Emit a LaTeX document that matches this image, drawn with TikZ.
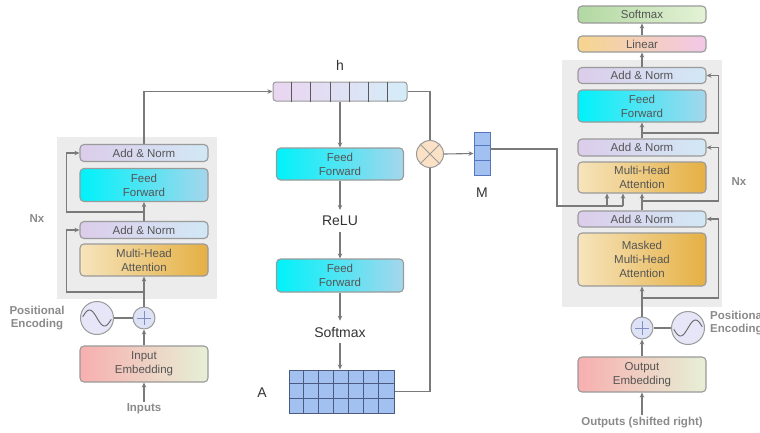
\documentclass[tikz,border=0pt]{standalone}
\usepackage{fontspec}
\setmainfont{Liberation Sans}
\usetikzlibrary{arrows.meta,calc}
\definecolor{lineg}{HTML}{7A7A7A}
\definecolor{boxb}{HTML}{9A9A9A}
\definecolor{txtg}{HTML}{555555}
\definecolor{lblg}{HTML}{8A8A8A}
\definecolor{bgp}{HTML}{ECECEC}
\definecolor{anL}{HTML}{DCCDEB}
\definecolor{anR}{HTML}{D2E8F5}
\definecolor{ffL}{HTML}{00F2FA}
\definecolor{ffR}{HTML}{A5D6EC}
\definecolor{mhL}{HTML}{F6E4BC}
\definecolor{mhR}{HTML}{E5B043}
\definecolor{ieL}{HTML}{F7AFAF}
\definecolor{ieR}{HTML}{E6F0D6}
\definecolor{liL}{HTML}{F5D58E}
\definecolor{liR}{HTML}{F2C8E8}
\definecolor{smL}{HTML}{B2D8A2}
\definecolor{smR}{HTML}{E4F2D6}
\definecolor{hL}{HTML}{EAD5F0}
\definecolor{hR}{HTML}{D5ECF8}
\definecolor{cellb}{HTML}{A2C0F0}
\definecolor{Aline}{HTML}{4A5A80}
\definecolor{Mline}{HTML}{5577BB}
\definecolor{otf}{HTML}{FBE1C6}
\definecolor{pef}{HTML}{E6E6F8}
\definecolor{plusf}{HTML}{DDE2F6}
\definecolor{plusl}{HTML}{7F8FC0}
\begin{document}
\begin{tikzpicture}[x=1pt,y=-1pt,
 box/.style={draw=boxb, line width=1.1pt, rounded corners=4pt, minimum width=128pt, text=txtg, font=\fontsize{11.5}{14}\selectfont, align=center, inner sep=0pt},
 addnorm/.style={box, minimum height=17pt, left color=anL, right color=anR},
 ffbox/.style={box, left color=ffL, right color=ffR},
 mhabox/.style={box, left color=mhL, right color=mhR},
 embbox/.style={box, minimum height=36pt, left color=ieL, right color=ieR},
 conn/.style={draw=lineg, line width=1.1pt},
 arr/.style={conn, -{Stealth[length=5pt,width=4.5pt]}},
 lbl/.style={text=lblg, font=\bfseries\fontsize{11.5}{13}\selectfont, inner sep=2pt},
 big/.style={text=black!80, font=\fontsize{14}{16}\selectfont, inner sep=6pt},
 plusc/.style={circle, draw=boxb, fill=plusf, line width=1pt, minimum size=22pt, inner sep=0pt},
 pec/.style={circle, draw=boxb, fill=pef, line width=1pt, minimum size=33pt, inner sep=0pt},
]
\useasboundingbox (0,0) rectangle (760,432);
\clip (0,0) rectangle (760,432);

% ---------------- Encoder ----------------
\fill[bgp] (57,137) rectangle (217,299);
\node[addnorm] (eAN2) at (144,153) {Add \& Norm};
\node[ffbox, minimum height=33pt] (eFF) at (144,185) {Feed\\Forward};
\node[addnorm] (eAN1) at (144,230) {Add \& Norm};
\node[mhabox, minimum height=32pt] (eMHA) at (144,260) {Multi-Head\\Attention};
\node[plusc] (ePlus) at (144,318) {};
\draw[plusl, line width=1pt] ($(ePlus.center)+(-7,0)$) -- ($(ePlus.center)+(7,0)$);
\draw[plusl, line width=1pt] ($(ePlus.center)+(0,-7)$) -- ($(ePlus.center)+(0,7)$);
\node[pec] (ePE) at (97,318) {};
\draw[black!60, line width=0.9pt] plot[domain=-0.95:0.95, smooth, samples=30] ({97+15*\x},{318+8*sin(180*\x)});
\node[embbox] (eIE) at (144,364) {Input\\Embedding};
\node[lbl] (eIn) at (144,409) {Inputs};
\node[lbl, align=center] (ePEt) at (37,318.5) {Positional\\Encoding};
\node[lbl] (eNx) at (37,219) {Nx};

\draw[arr] (eIn.north) -- (eIE.south);
\draw[arr] (eIE.north) -- (ePlus.south);
\draw[arr] (ePlus.north) -- (eMHA.south);
\draw[conn] (ePE.east) -- (ePlus.west);
\coordinate (eR1) at (144,292);
\draw[arr] (eR1) -| ($(eAN1.west)+(-13,0)$) -- (eAN1.west);
\draw[arr] (eAN1.north) -- (eFF.south);
\coordinate (eR2) at (144,212);
\draw[arr] (eR2) -| ($(eAN2.west)+(-13,0)$) -- (eAN2.west);

% ---------------- h ----------------
\node[draw=boxb, line width=1pt, rounded corners=3pt, minimum width=134pt, minimum height=19pt, left color=hL, right color=hR, inner sep=0pt] (h) at (340,91.5) {};
\foreach \i in {1,...,6}
  \draw[black!65, line width=0.8pt] ($(h.north west)+(\i*19.14,0)$) -- ($(h.south west)+(\i*19.14,0)$);
\node[big] (hl) at (340,65) {h};
\draw[arr] (eAN2.north) |- (h.west);

% ---------------- Centre column ----------------
\node[ffbox, minimum width=127pt, minimum height=32pt] (cFF1) at (340,164) {Feed\\Forward};
\node[big] (relu) at (340,221) {ReLU};
\node[ffbox, minimum width=127pt, minimum height=33pt] (cFF2) at (340,275.5) {Feed\\Forward};
\node[big] (csm) at (340,332) {Softmax};
\node[draw=Aline, fill=cellb, line width=1pt, minimum width=105pt, minimum height=43pt, inner sep=0pt] (A) at (341.5,391.5) {};
\foreach \i in {1,...,6}
  \draw[Aline, line width=0.8pt] ($(A.north west)+(\i*15,0)$) -- ($(A.south west)+(\i*15,0)$);
\foreach \j in {1,2}
  \draw[Aline, line width=0.8pt] ($(A.north west)+(0,\j*14.33)$) -- ($(A.north east)+(0,\j*14.33)$);
\node[big] (Al) at (262,393) {A};

\draw[arr] (h.south) -- (cFF1.north);
\draw[arr] (cFF1.south) -- (relu.north);
\draw[arr] (relu.south) -- (cFF2.north);
\draw[arr] (cFF2.south) -- (csm.north);
\draw[arr] (csm.south) -- (csm.south |- A.north);

% ---------------- Otimes and M ----------------
\node[circle, draw=boxb, fill=otf, line width=1pt, minimum size=27pt, inner sep=0pt] (ot) at (430,154) {};
\draw[boxb, line width=1pt] (ot.north west) -- (ot.south east);
\draw[boxb, line width=1pt] (ot.north east) -- (ot.south west);
\draw[conn] (h.east) -| (ot.north);
\draw[conn] (A.east) -| (ot.south);

\node[draw=Mline, fill=cellb, line width=1pt, minimum width=16pt, minimum height=43pt, inner sep=0pt] (M) at (482,153.5) {};
\foreach \j in {1,2}
  \draw[Mline, line width=0.8pt] ($(M.north west)+(0,\j*14.33)$) -- ($(M.north east)+(0,\j*14.33)$);
\node[big] (Ml) at (482,193) {M};
\draw[arr] (ot.east) -- (M.west);

% ---------------- Decoder ----------------
\fill[bgp] (562,60) rectangle (722,307);
\node[box, minimum height=17pt, left color=smL, right color=smR] (dSM) at (642,14.5) {Softmax};
\node[box, minimum height=16pt, left color=liL, right color=liR] (dLin) at (642,44) {Linear};
\node[addnorm, minimum height=16pt] (dAN3) at (642,75.5) {Add \& Norm};
\node[ffbox, minimum height=32pt] (dFF) at (642,106) {Feed\\Forward};
\node[addnorm] (dAN2) at (642,147.5) {Add \& Norm};
\node[mhabox, minimum height=31pt] (dMHA) at (642,177.5) {Multi-Head\\Attention};
\node[addnorm, minimum height=16pt] (dAN1) at (642,219) {Add \& Norm};
\node[mhabox, minimum height=53pt] (dMM) at (642,259.5) {Masked\\Multi-Head\\Attention};
\node[plusc] (dPlus) at (642,328) {};
\draw[plusl, line width=1pt] ($(dPlus.center)+(-7,0)$) -- ($(dPlus.center)+(7,0)$);
\draw[plusl, line width=1pt] ($(dPlus.center)+(0,-7)$) -- ($(dPlus.center)+(0,7)$);
\node[pec] (dPE) at (688,328) {};
\draw[black!60, line width=0.9pt] plot[domain=-0.95:0.95, smooth, samples=30] ({688+15*\x},{328-8*sin(180*\x)});
\node[lbl, align=left, anchor=west] (dPEt) at (708,323.5) {Positional\\Encoding};
\node[embbox, minimum height=35pt] (dOE) at (642,374.5) {Output\\Embedding};
\node[lbl] (dOut) at (642,423) {Outputs (shifted right)};
\node[lbl] (dNx) at (739,182) {Nx};

\draw[arr] (dOut.north) -- (dOE.south);
\draw[arr] (dOE.north) -- (dPlus.south);
\draw[arr] (dPlus.north) -- (dMM.south);
\draw[conn] (dPlus.east) -- (dPE.west);
\coordinate (dR1) at (642,298);
\draw[arr] (dR1) -| ($(dAN1.east)+(12,0)$) -- (dAN1.east);
\draw[arr] (dAN1.north) -- (dMHA.south);
\coordinate (dR2) at (642,201);
\draw[arr] (dR2) -| ($(dAN2.east)+(12,0)$) -- (dAN2.east);
\draw[arr] (dAN2.north) -- (dFF.south);
\coordinate (dR3) at (642,133);
\draw[arr] (dR3) -| ($(dAN3.east)+(12,0)$) -- (dAN3.east);
\draw[arr] (dAN3.north) -- (dLin.south);
\draw[arr] (dLin.north) -- (dSM.south);

% M into decoder attention
\coordinate (mR) at (490,149);
\coordinate (mJ) at (557,206);
\coordinate (mK) at (607,206);
\coordinate (mV) at (623,206);
\draw[conn] (mR) -| (mJ) -- (mV);
\draw[arr] (mK) -- (mK |- dMHA.south);
\draw[arr] (mV) -- (mV |- dMHA.south);
\end{tikzpicture}
\end{document}
